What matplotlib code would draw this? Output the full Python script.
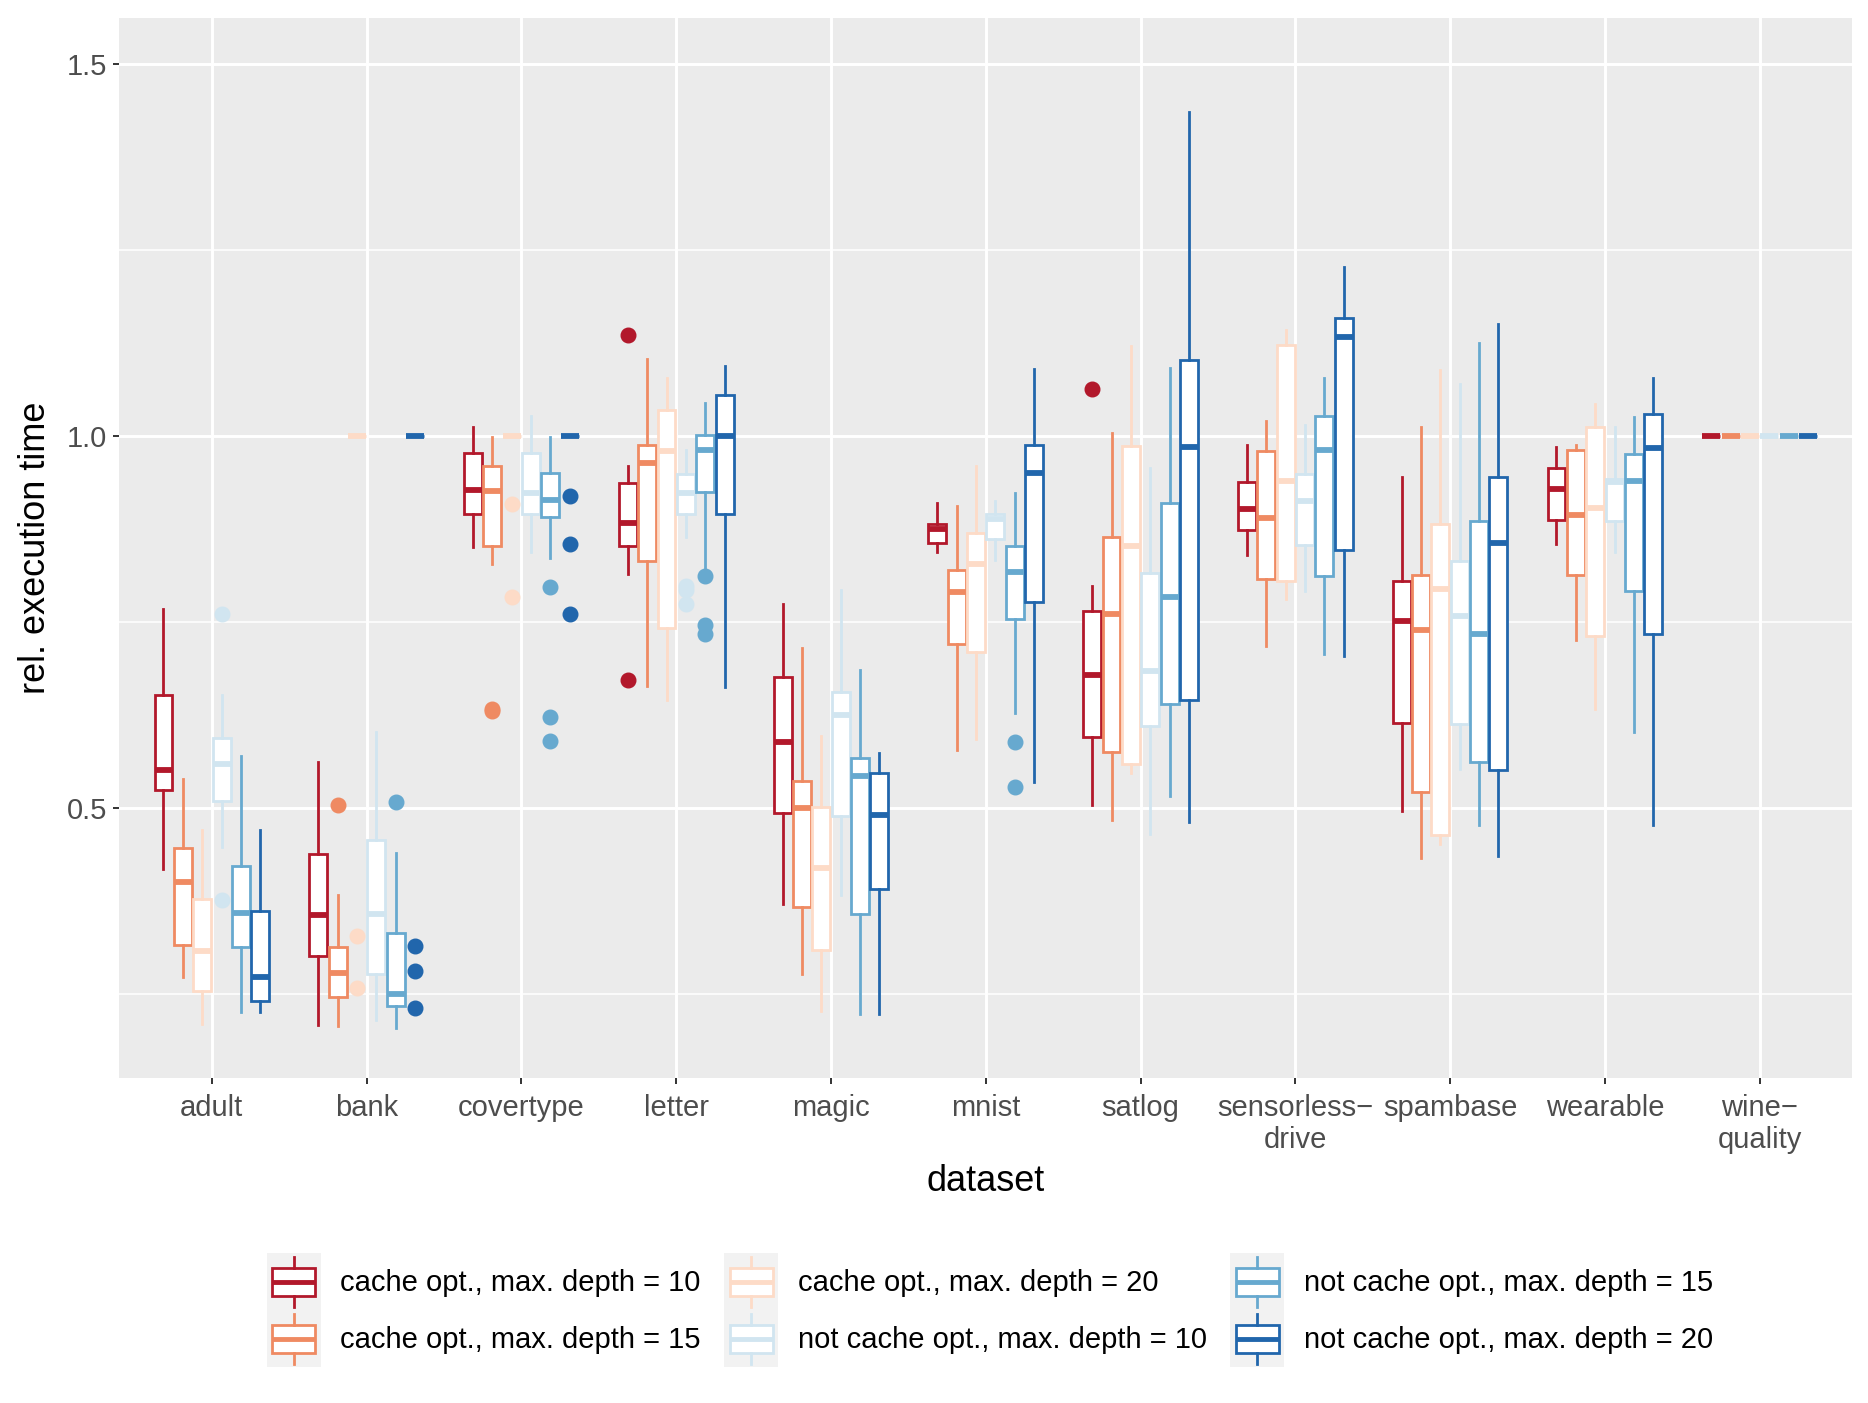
import numpy as np
import matplotlib
matplotlib.use("Agg")
import matplotlib.pyplot as plt
from matplotlib.patches import Rectangle, Patch
from matplotlib.lines import Line2D
from matplotlib.legend_handler import HandlerBase

plt.rcParams['font.family'] = ['Liberation Sans', 'DejaVu Sans']

datasets = ["adult", "bank", "covertype", "letter", "magic", "mnist", "satlog",
            "sensorless\u2212\ndrive", "spambase", "wearable", "wine\u2212\nquality"]
groups = ["cache opt., max. depth = 10", "cache opt., max. depth = 15",
          "cache opt., max. depth = 20", "not cache opt., max. depth = 10",
          "not cache opt., max. depth = 15", "not cache opt., max. depth = 20"]
colors = ["#B2182B", "#EF8A62", "#FDDBC7", "#D1E5F0", "#67A9CF", "#2166AC"]

# rows = datasets, columns = groups
whis_hi = [
    [0.768, 0.540, 0.471, 0.652, 0.570, 0.471],
    [0.562, 0.383, 1.000, 0.602, 0.440, 1.000],
    [1.013, 0.999, 1.000, 1.028, 0.999, 1.000],
    [0.960, 1.104, 1.078, 0.981, 1.045, 1.094],
    [0.775, 0.716, 0.597, 0.794, 0.686, 0.574],
    [0.910, 0.907, 0.960, 0.913, 0.924, 1.090],
    [0.799, 1.005, 1.121, 0.957, 1.092, 1.436],
    [0.988, 1.021, 1.143, 1.015, 1.079, 1.227],
    [0.945, 1.013, 1.089, 1.071, 1.125, 1.151],
    [0.986, 0.989, 1.043, 1.013, 1.026, 1.078],
    [1.0, 1.0, 1.0, 1.0, 1.0, 1.0],
]
q3 = [
    [0.652, 0.447, 0.378, 0.594, 0.422, 0.362],
    [0.438, 0.314, 1.000, 0.458, 0.332, 1.000],
    [0.978, 0.960, 1.000, 0.978, 0.951, 1.000],
    [0.937, 0.988, 1.036, 0.949, 1.002, 1.055],
    [0.677, 0.537, 0.502, 0.657, 0.568, 0.547],
    [0.882, 0.820, 0.870, 0.895, 0.852, 0.989],
    [0.765, 0.865, 0.987, 0.816, 0.910, 1.103],
    [0.939, 0.980, 1.123, 0.950, 1.027, 1.159],
    [0.806, 0.813, 0.882, 0.832, 0.886, 0.945],
    [0.957, 0.981, 1.012, 0.943, 0.976, 1.030],
    [1.0, 1.0, 1.0, 1.0, 1.0, 1.0],
]
med = [
    [0.552, 0.401, 0.308, 0.560, 0.359, 0.274],
    [0.357, 0.279, 1.000, 0.358, 0.251, 1.000],
    [0.928, 0.927, 1.000, 0.924, 0.915, 1.000],
    [0.883, 0.964, 0.980, 0.924, 0.982, 1.000],
    [0.589, 0.500, 0.420, 0.625, 0.543, 0.491],
    [0.876, 0.791, 0.829, 0.889, 0.818, 0.951],
    [0.679, 0.761, 0.853, 0.685, 0.784, 0.985],
    [0.903, 0.890, 0.940, 0.913, 0.982, 1.133],
    [0.752, 0.740, 0.795, 0.759, 0.734, 0.856],
    [0.929, 0.894, 0.904, 0.939, 0.940, 0.984],
    [1.0, 1.0, 1.0, 1.0, 1.0, 1.0],
]
q1 = [
    [0.524, 0.316, 0.254, 0.510, 0.314, 0.241],
    [0.302, 0.247, 1.000, 0.278, 0.235, 1.000],
    [0.896, 0.853, 1.000, 0.896, 0.892, 1.000],
    [0.852, 0.832, 0.743, 0.896, 0.925, 0.895],
    [0.494, 0.368, 0.309, 0.490, 0.358, 0.391],
    [0.857, 0.721, 0.710, 0.862, 0.754, 0.778],
    [0.596, 0.576, 0.560, 0.611, 0.640, 0.645],
    [0.874, 0.808, 0.805, 0.854, 0.812, 0.847],
    [0.615, 0.522, 0.464, 0.614, 0.562, 0.551],
    [0.888, 0.813, 0.732, 0.886, 0.792, 0.734],
    [1.0, 1.0, 1.0, 1.0, 1.0, 1.0],
]
whis_lo = [
    [0.418, 0.274, 0.210, 0.448, 0.226, 0.226],
    [0.209, 0.207, 1.000, 0.215, 0.205, 1.000],
    [0.851, 0.828, 1.000, 0.845, 0.837, 1.000],
    [0.815, 0.665, 0.646, 0.865, 0.820, 0.663],
    [0.372, 0.278, 0.228, 0.383, 0.224, 0.224],
    [0.844, 0.579, 0.593, 0.834, 0.628, 0.535],
    [0.504, 0.484, 0.547, 0.465, 0.516, 0.481],
    [0.841, 0.718, 0.782, 0.792, 0.707, 0.705],
    [0.497, 0.433, 0.452, 0.553, 0.478, 0.436],
    [0.855, 0.726, 0.633, 0.844, 0.602, 0.478],
    [1.0, 1.0, 1.0, 1.0, 1.0, 1.0],
]
# outliers: (dataset index, group index) -> values
fliers = {
    (0, 3): [0.761, 0.377],
    (1, 1): [0.505],
    (1, 2): [0.329, 0.258],
    (1, 4): [0.509],
    (1, 5): [0.315, 0.282, 0.231],
    (2, 1): [0.633, 0.631],
    (2, 2): [0.909, 0.784],
    (2, 4): [0.797, 0.623, 0.590],
    (2, 5): [0.920, 0.855, 0.761],
    (3, 0): [1.136, 0.672],
    (3, 3): [0.799, 0.793, 0.775],
    (3, 4): [0.812, 0.747, 0.734],
    (5, 4): [0.589, 0.529],
    (6, 0): [1.064],
}

fig = plt.figure(figsize=(18.68, 14.03), dpi=100)
ax = fig.add_axes([0.0637, 0.2316, 0.928, 0.7557])
ax.set_facecolor("#EBEBEB")
for s in ax.spines.values():
    s.set_visible(False)

ax.set_axisbelow(True)
ax.set_yticks([0.5, 1.0, 1.5])
ax.set_yticks([0.25, 0.75, 1.25], minor=True)
ax.set_xticks(np.arange(1, len(datasets) + 1))
ax.set_xticklabels(datasets)
ax.grid(which="major", color="white", lw=2.1)
ax.grid(which="minor", axis="y", color="white", lw=1.1)
ax.tick_params(which="major", length=4.5, width=1.4, color="#333333",
               labelcolor="#4D4D4D", labelsize=21, pad=4)
ax.tick_params(axis="x", pad=7)
ax.tick_params(which="minor", length=0)

n = len(datasets)
slot = 0.125
for g in range(len(groups)):
    stats = []
    for d in range(n):
        stats.append(dict(whislo=whis_lo[d][g], q1=q1[d][g], med=med[d][g],
                          q3=q3[d][g], whishi=whis_hi[d][g],
                          fliers=fliers.get((d, g), [])))
    pos = np.arange(1, n + 1) + (g - 2.5) * slot
    c = colors[g]
    ax.bxp(stats, positions=pos, widths=0.116, patch_artist=True,
           showcaps=False, manage_ticks=False,
           boxprops=dict(facecolor="white", edgecolor=c, lw=2.0),
           medianprops=dict(color=c, lw=4.2, solid_capstyle="butt"),
           whiskerprops=dict(color=c, lw=2.0),
           flierprops=dict(marker="o", markerfacecolor=c, markeredgecolor=c,
                           markersize=10.5))

ax.set_xlim(0.4, 11.6)
ax.set_ylim(0.1375, 1.5625)
ax.set_xlabel("dataset", fontsize=26, labelpad=7)
ax.set_ylabel("rel. execution time", fontsize=26, labelpad=10)


class BoxKey(HandlerBase):
    def create_artists(self, legend, orig_handle, xdescent, ydescent,
                       width, height, fontsize, trans):
        c = orig_handle.get_edgecolor()
        x0, y0 = -xdescent, -ydescent
        bg = Rectangle((x0, y0), width, height, fc="#F2F2F2", ec="none",
                       transform=trans)
        box = Rectangle((x0 + 0.1 * width, y0 + 0.25 * height), 0.8 * width,
                        0.5 * height, fc="white", ec=c, lw=2.0, transform=trans)
        mid = Line2D([x0 + 0.1 * width, x0 + 0.9 * width], [y0 + 0.5 * height] * 2,
                     color=c, lw=3.5, solid_capstyle="butt", transform=trans)
        w1 = Line2D([x0 + 0.5 * width] * 2, [y0 + 0.06 * height, y0 + 0.25 * height],
                    color=c, lw=2.0, transform=trans)
        w2 = Line2D([x0 + 0.5 * width] * 2, [y0 + 0.75 * height, y0 + 0.94 * height],
                    color=c, lw=2.0, transform=trans)
        return [bg, box, mid, w1, w2]


handles = [Patch(facecolor="white", edgecolor=c) for c in colors]
fig.legend(handles, groups, loc="center", bbox_to_anchor=(0.530, 0.066),
           ncol=3, frameon=False, fontsize=21, handler_map={Patch: BoxKey()},
           handlelength=1.85, handleheight=2.63, labelspacing=0.0,
           handletextpad=0.68, columnspacing=0.8, borderpad=0)

fig.savefig("out.png", dpi=100)
